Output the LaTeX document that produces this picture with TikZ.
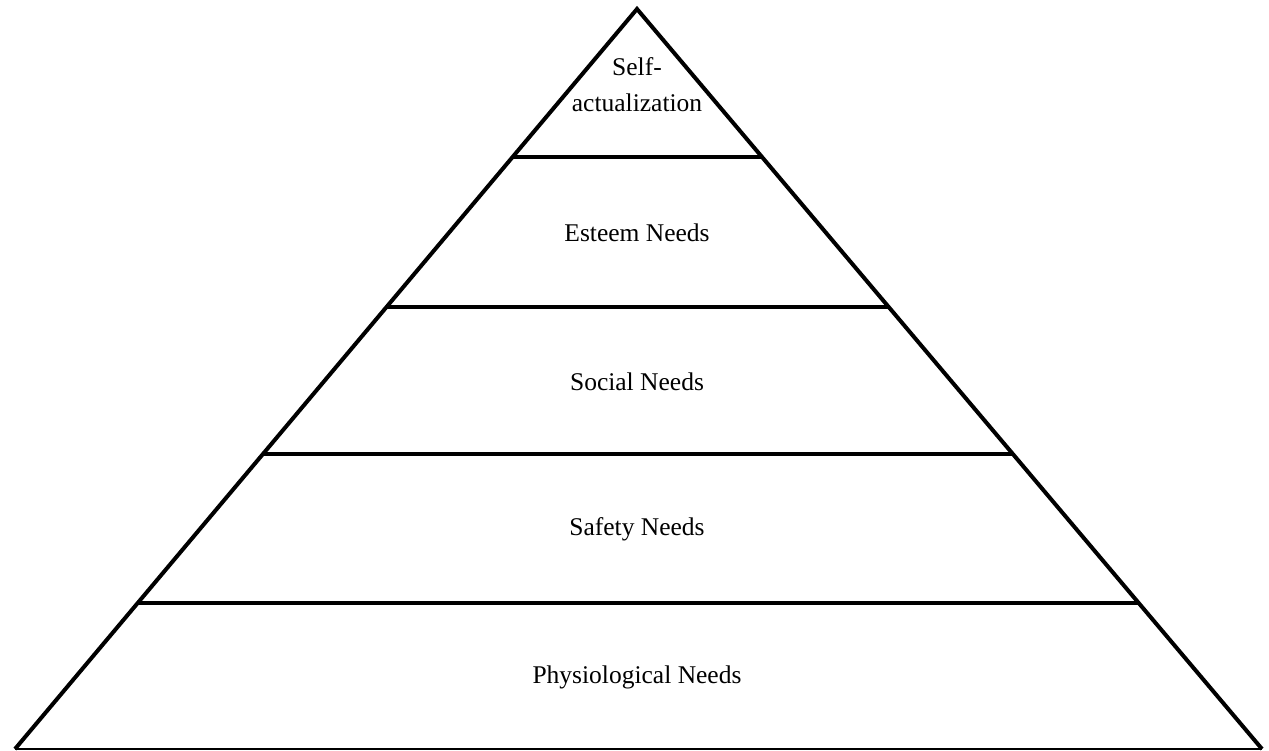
\documentclass[tikz,border=0pt]{standalone}
\usepackage{fontspec}
\setmainfont{Liberation Serif}
\usetikzlibrary{calc}
\begin{document}
\begin{tikzpicture}[x=1pt,y=-1pt,
  side/.style={line width=4pt,line join=miter,line cap=butt},
  tier/.style={line width=4pt},
  baseln/.style={line width=2.2pt},
  lbl/.style={font=\fontsize{25.5}{31}\selectfont,align=center,inner sep=0pt}]
\useasboundingbox (0,0) rectangle (1269,751);
\coordinate (apex) at (637,9);
\coordinate (bl) at (15,749);
\coordinate (br) at (1262,749);
\draw[side] (bl) -- (apex) -- (br);
\draw[baseln] (bl) -- (br);
\foreach \t/\n in {0.2/a,0.4027/b,0.601/c,0.8027/d}{
  \coordinate (l\n) at ($(apex)!\t!(bl)$);
  \coordinate (r\n) at ($(apex)!\t!(br)$);
  \draw[tier] (l\n) -- (r\n);
}
\node[lbl] (self) at (637,85) {Self-\\[5pt]actualization};
\node[lbl] (esteem) at (637,233) {Esteem Needs};
\node[lbl] (social) at (637,382) {Social Needs};
\node[lbl] (safety) at (637,529) {Safety Needs};
\node[lbl] (phys) at (637,677) {Physiological Needs};
\end{tikzpicture}
\end{document}
